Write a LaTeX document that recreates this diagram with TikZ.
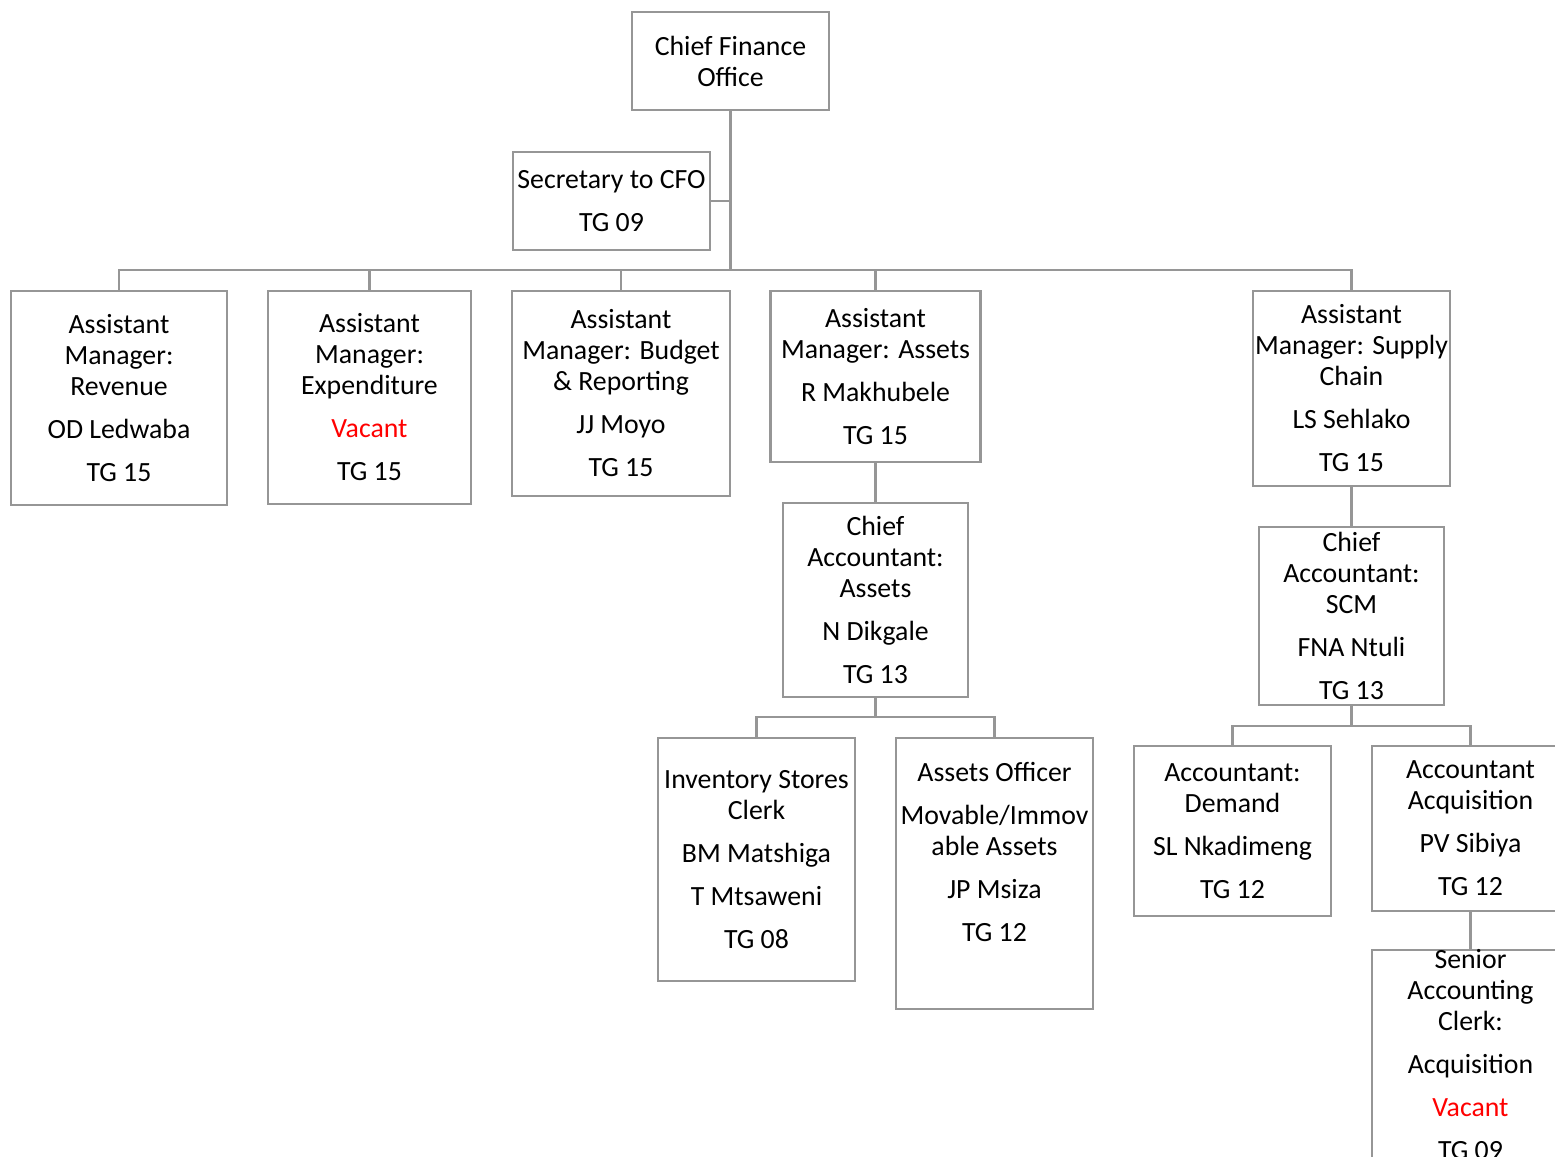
\documentclass[tikz,border=0pt]{standalone}
\usepackage{fontspec}
\setmainfont{Carlito}
\usetikzlibrary{positioning}

\definecolor{linegray}{RGB}{150,150,150}
\definecolor{vacantred}{RGB}{255,0,0}
\newcommand{\para}{\\[6pt]}
\newcommand{\vacant}{\textcolor{vacantred}{Vacant}}

\begin{document}
\begin{tikzpicture}[
      x=0.5pt, y=-0.5pt,
      box/.style={draw=linegray, line width=1.2pt, align=center, inner sep=0pt,
        font=\fontsize{13.9pt}{15.5pt}\selectfont},
      link/.style={draw=linegray, line width=1.1pt}
    ]
    \useasboundingbox (0,0) rectangle (1555,1157);
    % top level
    \node[box, minimum width=98.5pt, minimum height=49pt] (cfo) at (730.5,61) {Chief Finance\\Office};
    \node[box, minimum width=98.5pt, minimum height=49pt] (sec) at (611.5,201) {Secretary to CFO\para TG 09};
    % assistant managers
    \node[box, minimum width=108pt, minimum height=107pt] (rev) at (119,398) {Assistant\\Manager:\\Revenue\para OD Ledwaba\para TG 15};
    \node[box, minimum width=101.5pt, minimum height=106.5pt] (exp) at (369.5,397.5) {Assistant\\Manager:\\Expenditure\para \vacant\para TG 15};
    \node[box, minimum width=109pt, minimum height=102.5pt] (bud) at (621,393.5) {Assistant\\Manager: Budget\\\& Reporting\para JJ Moyo\para TG 15};
    \node[box, minimum width=105pt, minimum height=85.5pt] (ama) at (875.5,376.5) {Assistant\\Manager: Assets\para R Makhubele\para TG 15};
    \node[box, minimum width=98.5pt, minimum height=97.5pt] (ams) at (1351.5,388.5) {Assistant\\Manager: Supply\\Chain\para LS Sehlako\para TG 15};
    % chief accountants
    \node[box, minimum width=92.5pt, minimum height=97pt] (caa) at (875.5,600) {Chief\\Accountant:\\Assets\para N Dikgale\para TG 13};
    \node[box, minimum width=92.5pt, minimum height=89pt] (cas) at (1351.5,616) {Chief\\Accountant:\\SCM\para FNA Ntuli\para TG 13};
    % assets staff
    \node[box, minimum width=98.5pt, minimum height=121.5pt] (inv) at (756.5,859.5) {Inventory Stores\\Clerk\para BM Matshiga\para T Mtsaweni\para TG 08};
    \node[box, minimum width=98.5pt, minimum height=135.5pt] (aof) at (994.5,873.5) {Assets Officer\para Movable/Immov\\able Assets\para JP Msiza\para TG 12\para\mbox{}};
    % supply chain staff
    \node[box, minimum width=98.5pt, minimum height=85pt] (dem) at (1232.5,831) {Accountant:\\Demand\para SL Nkadimeng\para TG 12};
    \node[box, minimum width=98.5pt, minimum height=82.5pt] (acq) at (1470.5,828.5) {Accountant\\Acquisition\para PV Sibiya\para TG 12};
    \node[box, minimum width=98.5pt, minimum height=104pt] (sen) at (1470.5,1055) {Senior\\Accounting\\Clerk:\para Acquisition\para \vacant\para TG 09};
    % connectors
    \coordinate (top-bus) at (730.5,270);
    \coordinate (caa-bus) at (875.5,717);
    \coordinate (cas-bus) at (1351.5,726);
    \draw[link] (cfo.south) -- (top-bus);
    \draw[link] (sec.east) -- (sec.east -| cfo.south);
    \foreach \child in {rev,exp,bud,ama,ams}
      \draw[link] (top-bus) -| (\child.north);
    \draw[link] (ama.south) -- (caa.north);
    \draw[link] (caa.south) -- (caa-bus);
    \draw[link] (caa-bus) -| (inv.north);
    \draw[link] (caa-bus) -| (aof.north);
    \draw[link] (ams.south) -- (cas.north);
    \draw[link] (cas.south) -- (cas-bus);
    \draw[link] (cas-bus) -| (dem.north);
    \draw[link] (cas-bus) -| (acq.north);
    \draw[link] (acq.south) -- (sen.north);
  \end{tikzpicture}
\end{document}
